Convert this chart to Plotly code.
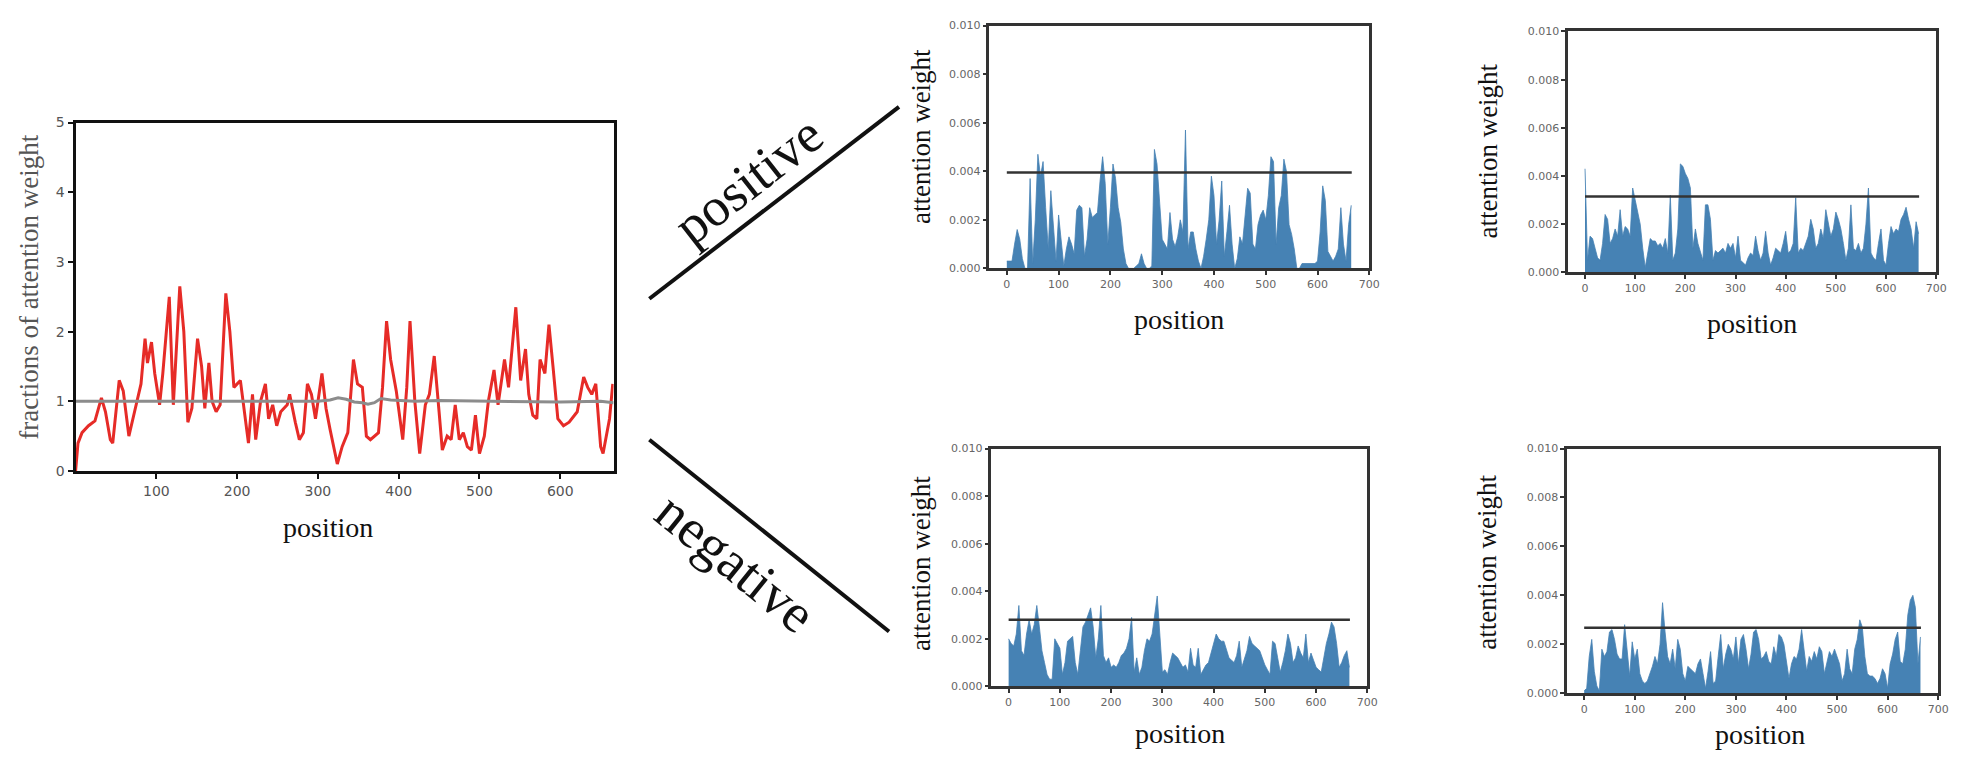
import plotly.graph_objects as go

W, H = 1977, 758

# ---------------- data ----------------
# left panel: fraction of attention weight (red) and baseline (grey)
red_x = [0,3,8,16,24,32,37,43,46,54,59,66,73,81,86,89,94,98,104,108,116,121,129,134,139,144,151,156,160,165,
         169,174,179,186,191,196,204,209,214,219,223,229,235,239,244,249,254,262,265,272,277,282,287,292,297,305,310,315,324,330,
         337,344,349,355,360,365,370,375,380,385,390,397,405,410,414,420,426,433,438,444,450,454,460,465,470,475,480,485,490,495,
         500,506,511,518,523,531,536,545,551,557,561,566,571,575,581,586,591,597,604,611,621,629,634,639,644,650,653,661,665]
red_y = [0,0.4,0.55,0.65,0.72,1.05,0.85,0.45,0.4,1.3,1.15,0.5,0.85,1.25,1.9,1.55,1.85,1.4,0.95,1.4,
         2.5,0.95,2.65,2.0,0.7,0.9,1.9,1.5,0.9,1.55,1.0,0.85,0.95,2.55,2.0,1.2,1.3,0.85,0.4,1.1,
         0.45,1.0,1.25,0.75,0.95,0.65,0.85,0.95,1.1,0.7,0.45,0.55,1.25,1.1,0.75,1.4,0.9,0.6,0.1,0.35,
         0.55,1.6,1.25,1.2,0.5,0.45,0.5,0.55,1.2,2.15,1.6,1.15,0.45,1.2,2.15,1.0,0.25,0.95,1.1,1.65,
         0.85,0.3,0.5,0.45,0.95,0.45,0.55,0.35,0.3,0.8,0.25,0.5,1.0,1.45,0.95,1.6,1.2,2.35,1.3,1.75,
         1.1,0.8,0.75,1.6,1.4,2.1,1.5,0.75,0.65,0.7,0.85,1.35,1.2,1.1,1.25,0.35,0.25,0.75,1.25]
grey_x = [0,50,100,150,200,250,300,315,325,335,345,355,362,370,378,390,420,450,500,550,600,650,666]
grey_y = [1.0,1.0,1.0,0.99,1.0,1.0,1.0,1.02,1.05,1.03,0.99,0.98,0.96,0.98,1.04,1.02,1.0,1.01,1.0,1.0,0.99,1.0,0.98]

left_xticks = [100, 200, 300, 400, 500, 600]
left_yticks = [0, 1, 2, 3, 4, 5]
small_xticks = [0, 100, 200, 300, 400, 500, 600, 700]
small_yticks = [0.000, 0.002, 0.004, 0.006, 0.008, 0.010]

# attention weight per position (sampled every 5 positions, 0..665)
pos_top_mid = [0.0003,0.0003,0.0003,0.0010,0.0016,0.0012,0.0004,0.0000,0.0000,0.0037,
               0.0002,0.0020,0.0047,0.0038,0.0044,0.0025,0.0008,0.0032,0.0018,0.0003,
               0.0022,0.0012,0.0001,0.0008,0.0013,0.0010,0.0006,0.0024,0.0026,0.0025,
               0.0005,0.0012,0.0025,0.0021,0.0022,0.0023,0.0036,0.0046,0.0035,0.0010,
               0.0025,0.0043,0.0037,0.0025,0.0019,0.0008,0.0002,0.0000,0.0000,0.0000,
               0.0001,0.0002,0.0006,0.0002,0.0000,0.0000,0.0001,0.0049,0.0043,0.0025,
               0.0012,0.0010,0.0008,0.0023,0.0012,0.0009,0.0013,0.0020,0.0015,0.0057,
               0.0008,0.0015,0.0015,0.0008,0.0003,0.0000,0.0005,0.0012,0.0020,0.0038,
               0.0030,0.0010,0.0020,0.0036,0.0005,0.0015,0.0026,0.0010,0.0000,0.0004,
               0.0013,0.0010,0.0022,0.0033,0.0031,0.0010,0.0008,0.0018,0.0022,0.0024,
               0.0020,0.0030,0.0046,0.0044,0.0010,0.0025,0.0030,0.0045,0.0040,0.0018,
               0.0014,0.0008,0.0000,0.0000,0.0002,0.0002,0.0002,0.0002,0.0002,0.0002,
               0.0003,0.0015,0.0034,0.0028,0.0007,0.0005,0.0003,0.0005,0.0008,0.0025,
               0.0010,0.0003,0.0018,0.0026]
pos_top_right = [0.0043,0.0005,0.0015,0.0014,0.0010,0.0006,0.0005,0.0012,0.0024,0.0022,
                 0.0012,0.0014,0.0018,0.0015,0.0026,0.0015,0.0019,0.0018,0.0015,0.0035,
                 0.0030,0.0025,0.0020,0.0010,0.0002,0.0008,0.0014,0.0013,0.0013,0.0011,
                 0.0012,0.0010,0.0014,0.0008,0.0032,0.0005,0.0008,0.0018,0.0045,0.0044,
                 0.0041,0.0039,0.0035,0.0010,0.0018,0.0012,0.0008,0.0005,0.0028,0.0028,
                 0.0022,0.0005,0.0009,0.0008,0.0009,0.0010,0.0008,0.0012,0.0010,0.0012,
                 0.0006,0.0015,0.0005,0.0004,0.0003,0.0006,0.0008,0.0007,0.0015,0.0009,
                 0.0005,0.0008,0.0017,0.0008,0.0003,0.0006,0.0010,0.0009,0.0008,0.0012,
                 0.0017,0.0008,0.0009,0.0012,0.0031,0.0008,0.0010,0.0009,0.0012,0.0015,
                 0.0022,0.0018,0.0010,0.0012,0.0018,0.0014,0.0026,0.0020,0.0015,0.0018,
                 0.0025,0.0022,0.0018,0.0012,0.0005,0.0010,0.0028,0.0010,0.0009,0.0012,
                 0.0008,0.0010,0.0020,0.0035,0.0008,0.0006,0.0005,0.0012,0.0018,0.0005,
                 0.0003,0.0012,0.0019,0.0016,0.0018,0.0017,0.0022,0.0024,0.0027,0.0022,
                 0.0018,0.0010,0.0021,0.0016]
neg_bot_mid = [0.0020,0.0018,0.0017,0.0022,0.0034,0.0015,0.0013,0.0022,0.0028,0.0022,
               0.0026,0.0034,0.0025,0.0015,0.0010,0.0005,0.0003,0.0003,0.0020,0.0018,
               0.0016,0.0005,0.0010,0.0019,0.0020,0.0021,0.0010,0.0005,0.0015,0.0025,
               0.0027,0.0030,0.0033,0.0025,0.0012,0.0020,0.0034,0.0013,0.0010,0.0012,
               0.0008,0.0009,0.0008,0.0010,0.0013,0.0014,0.0016,0.0020,0.0029,0.0006,
               0.0012,0.0005,0.0008,0.0015,0.0020,0.0019,0.0022,0.0030,0.0038,0.0022,
               0.0006,0.0007,0.0005,0.0010,0.0014,0.0013,0.0012,0.0010,0.0008,0.0009,
               0.0006,0.0016,0.0009,0.0008,0.0016,0.0005,0.0007,0.0009,0.0010,0.0014,
               0.0018,0.0022,0.0020,0.0019,0.0019,0.0015,0.0012,0.0011,0.0010,0.0013,
               0.0019,0.0008,0.0012,0.0015,0.0021,0.0018,0.0017,0.0016,0.0015,0.0012,
               0.0009,0.0007,0.0005,0.0019,0.0018,0.0012,0.0006,0.0010,0.0015,0.0022,
               0.0018,0.0010,0.0012,0.0017,0.0014,0.0012,0.0022,0.0010,0.0014,0.0011,
               0.0008,0.0007,0.0006,0.0012,0.0018,0.0022,0.0027,0.0025,0.0018,0.0008,
               0.0010,0.0013,0.0015,0.0008]
neg_bot_right = [0.0001,0.0002,0.0015,0.0022,0.0009,0.0003,0.0001,0.0018,0.0015,0.0017,
                 0.0025,0.0026,0.0022,0.0016,0.0014,0.0014,0.0028,0.0016,0.0007,0.0021,
                 0.0014,0.0018,0.0008,0.0005,0.0004,0.0005,0.0008,0.0011,0.0015,0.0012,
                 0.0020,0.0037,0.0025,0.0015,0.0012,0.0018,0.0010,0.0022,0.0018,0.0008,
                 0.0005,0.0011,0.0010,0.0009,0.0008,0.0012,0.0014,0.0008,0.0002,0.0009,
                 0.0017,0.0004,0.0005,0.0015,0.0024,0.0010,0.0016,0.0020,0.0018,0.0014,
                 0.0023,0.0012,0.0022,0.0024,0.0018,0.0010,0.0016,0.0025,0.0026,0.0022,
                 0.0014,0.0015,0.0017,0.0013,0.0012,0.0019,0.0015,0.0024,0.0023,0.0020,
                 0.0013,0.0006,0.0012,0.0015,0.0014,0.0018,0.0026,0.0016,0.0009,0.0015,
                 0.0013,0.0017,0.0014,0.0019,0.0017,0.0008,0.0013,0.0017,0.0015,0.0018,
                 0.0015,0.0012,0.0005,0.0008,0.0018,0.0010,0.0008,0.0018,0.0022,0.0030,
                 0.0027,0.0015,0.0008,0.0007,0.0007,0.0006,0.0004,0.0006,0.0010,0.0008,
                 0.0002,0.0012,0.0016,0.0022,0.0025,0.0013,0.0012,0.0018,0.0032,0.0038,
                 0.0040,0.0035,0.0012,0.0023]
mean_weights = [0.00395, 0.00315, 0.0028, 0.00268]   # TM, TR, BM, BR
mean_span = [0, 666]

# ---------------- layout helpers (pixel -> paper) ----------------
def fx(p):
    return p / W

def fy(p):
    return 1 - p / H

BAR = "#4682b4"
fig = go.Figure()

# left panel
fig.add_trace(go.Scatter(x=red_x, y=red_y, mode="lines", line=dict(color="#e62b27", width=3),
                         xaxis="x", yaxis="y", showlegend=False, hoverinfo="skip"))
fig.add_trace(go.Scatter(x=grey_x, y=grey_y, mode="lines", line=dict(color="#8c8c8c", width=3),
                         xaxis="x", yaxis="y", showlegend=False, hoverinfo="skip"))

panels = [pos_top_mid, pos_top_right, neg_bot_mid, neg_bot_right]
for i, vals in enumerate(panels):
    k = str(i + 2)
    xs = list(range(0, 5 * len(vals), 5))
    fig.add_trace(go.Scatter(x=xs, y=vals, mode="lines", fill="tozeroy",
                             line=dict(color=BAR, width=0.8), fillcolor=BAR,
                             xaxis="x" + k, yaxis="y" + k, showlegend=False, hoverinfo="skip"))
    fig.add_trace(go.Scatter(x=mean_span, y=[mean_weights[i]] * 2, mode="lines",
                             line=dict(color="#333333", width=2.5),
                             xaxis="x" + k, yaxis="y" + k, showlegend=False, hoverinfo="skip"))

layout = dict(width=W, height=H, margin=dict(l=0, r=0, t=0, b=0),
              paper_bgcolor="white", plot_bgcolor="white")

layout["xaxis"] = dict(domain=[fx(76), fx(617)], range=[0, 666], tickvals=left_xticks,
                       ticks="outside", ticklen=5, tickwidth=2, tickcolor="#111",
                       showline=True, mirror=True, linecolor="#111", linewidth=3,
                       showgrid=False, zeroline=False, anchor="y",
                       tickfont=dict(family="DejaVu Sans", size=14, color="#555"))
layout["yaxis"] = dict(domain=[fy(473), fy(117)], range=[0, 5], tickvals=left_yticks,
                       ticks="outside", ticklen=5, tickwidth=2, tickcolor="#111",
                       showline=True, mirror=True, linecolor="#111", linewidth=3,
                       showgrid=False, zeroline=False, anchor="x",
                       tickfont=dict(family="DejaVu Sans", size=14, color="#555"))

boxes = {  # left, right, top, bottom in pixels
    "2": (995, 1377, 18, 266),
    "3": (1577, 1947, 24, 270),
    "4": (997, 1375, 450, 693),
    "5": (1576, 1949, 450, 700),
}
for k, (l, r, t, b) in boxes.items():
    layout["xaxis" + k] = dict(domain=[fx(l), fx(r)], range=[-33.5, 700], tickvals=small_xticks,
                               ticks="outside", ticklen=4, tickwidth=1.5, tickcolor="#333",
                               showline=True, mirror=True, linecolor="#333", linewidth=2.5,
                               showgrid=False, zeroline=False, anchor="y" + k,
                               tickfont=dict(family="DejaVu Sans", size=11, color="#666"))
    layout["yaxis" + k] = dict(domain=[fy(b), fy(t)], range=[0, 0.010], tickvals=small_yticks,
                               tickformat=".3f",
                               ticks="outside", ticklen=4, tickwidth=1.5, tickcolor="#333",
                               showline=True, mirror=True, linecolor="#333", linewidth=2.5,
                               showgrid=False, zeroline=False, anchor="x" + k,
                               tickfont=dict(family="DejaVu Sans", size=11, color="#666"))

SERIF = "Liberation Serif"
ann = []
def text(t, x, y, size, angle=0, color="#111"):
    ann.append(dict(text=t, x=fx(x), y=fy(y), xref="paper", yref="paper", showarrow=False,
                    textangle=angle, xanchor="center", yanchor="middle",
                    font=dict(family=SERIF, size=size, color=color)))

text("fractions of attention weight", 29, 285, 27, -90, "#555")
text("position", 330, 531, 28)
for (x, y) in [(926, 131), (1496, 146), (926, 567), (1495, 566)]:
    text("attention weight", x, y, 27, -90)
for (x, y) in [(1186, 318), (1762, 322), (1187, 741), (1770, 742)]:
    text("position", x, y, 28)
text("positive", 753, 176, 54, -38)
text("negative", 740, 566, 55, 39)
layout["annotations"] = ann

layout["shapes"] = [
    dict(type="line", xref="paper", yref="paper", x0=fx(653), y0=fy(297), x1=fx(904), y1=fy(101),
         line=dict(color="#111", width=4)),
    dict(type="line", xref="paper", yref="paper", x0=fx(653), y0=fy(441), x1=fx(894), y1=fy(637),
         line=dict(color="#111", width=4)),
]

fig.update_layout(**layout)
fig.write_html("out.html", config={"displayModeBar": False},
               post_script="document.body.style.margin='0';document.body.style.overflow='hidden';")
